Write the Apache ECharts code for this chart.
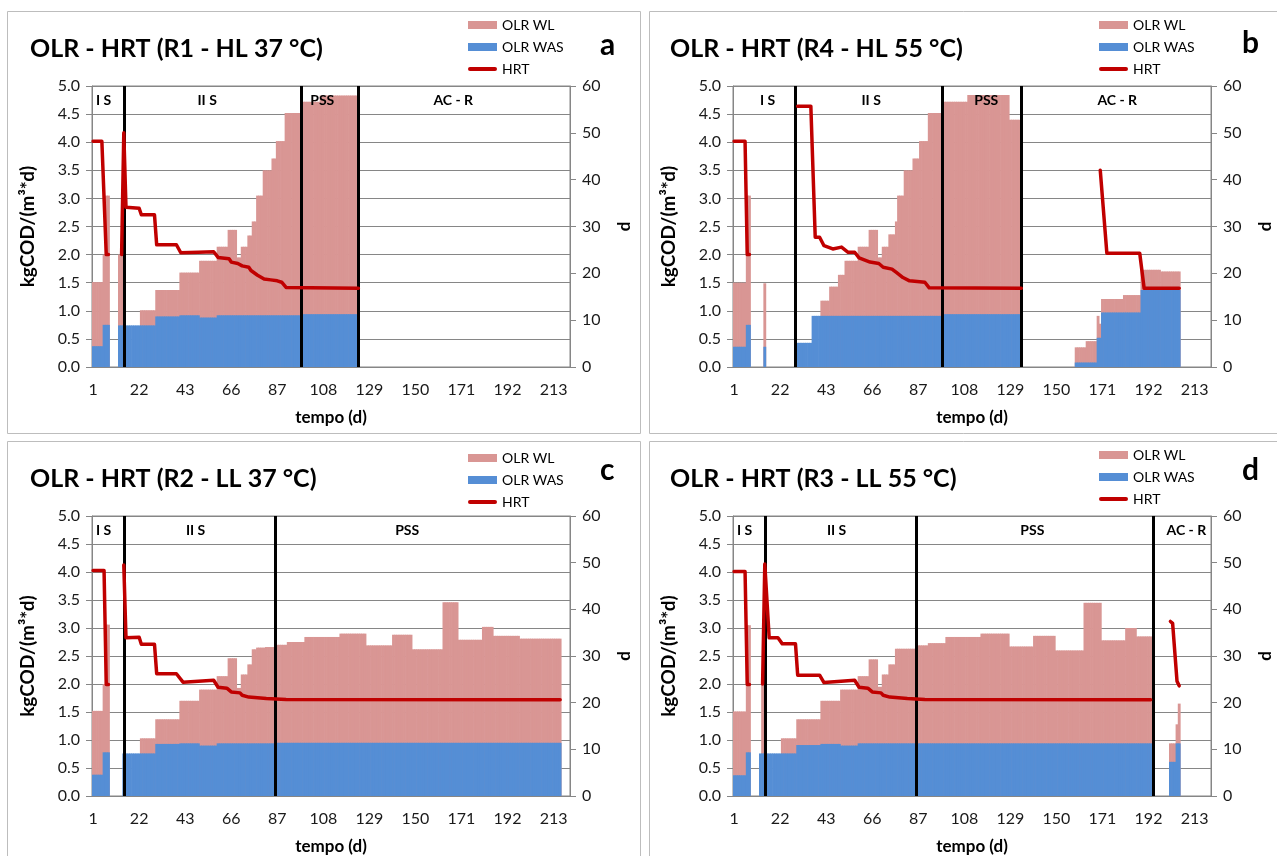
<!DOCTYPE html>
<html>
<head>
<meta charset="utf-8">
<script src="https://cdn.jsdelivr.net/npm/echarts@6/dist/echarts.min.js"></script>
<style>
html,body{margin:0;padding:0;background:#fff;}
#chart{width:1277px;height:856px;}
</style>
</head>
<body>
<div id="chart"></div>
<script>
// ---------------- DATA ----------------
// x axis: 218 daily categories (index), tick labels every 21 categories
const N_CAT = 218;
const tickLabels = ['1','22','43','66','87','108','129','150','171','192','213'];
const seriesNames = ['OLR WL', 'OLR WAS', 'HRT'];

// Run-length segments [firstCategory, lastCategory, value] (kgCOD/(m3*d))
// OLR WL = top of the pink column, OLR WAS = blue column
const a_wl = [[0,4,1.51],[5,5,2.0],[6,7,3.05],[12,13,2.0],[22,28,1.01],[29,39,1.37],[40,48,1.68],[49,56,1.89],[57,61,2.14],[62,65,2.44],[66,67,1.95],[68,70,2.14],[71,72,2.34],[73,74,2.59],[75,77,3.05],[78,81,3.5],[82,83,3.71],[84,87,4.02],[88,95,4.52],[96,103,4.72],[104,121,4.83]];
const a_was = [[0,4,0.37],[5,7,0.75],[12,28,0.74],[29,39,0.9],[40,48,0.92],[49,56,0.88],[57,95,0.92],[96,121,0.94]];
// HRT (d): line pieces, points [category, value]
const a_hrt = [
  [[0,48.2],[4,48.2],[6,24],[7,24]],
  [[13,24],[14,50],[15,34.1],[21,33.9],[22,32.5],[28,32.5],[29,26.1],[38,26.1],[40,24.4],[48,24.5],[55,24.6],[57,23.4],[62,23.1],[63,22.4],[66,22.1],[68,21.6],[71,21.3],[72,20.6],[75,19.6],[78,18.8],[81,18.6],[84,18.4],[86,18.1],[88,17.0],[121,16.8]]
];
const a_phases = [['I S',0,14],['II S',14,95],['PSS',95,121],['AC - R',121,217]];

const b_wl = [[0,5,1.5],[6,7,3.05],[14,14,1.49],[40,43,1.18],[44,47,1.43],[48,50,1.64],[51,56,1.89],[57,61,2.14],[62,65,2.44],[66,67,1.95],[68,70,2.14],[71,73,2.36],[74,74,2.59],[75,77,3.05],[78,81,3.5],[82,84,3.71],[85,88,4.02],[89,95,4.52],[96,106,4.72],[107,125,4.84],[126,131,4.4],[156,160,0.35],[161,165,0.46],[166,166,0.91],[167,167,0.77],[168,177,1.21],[178,185,1.28],[186,194,1.73],[195,203,1.7]];
const b_was = [[0,5,0.36],[6,7,0.75],[14,14,0.36],[29,35,0.43],[36,95,0.91],[96,131,0.94],[156,165,0.08],[166,167,0.52],[168,185,0.97],[186,203,1.37]];
const b_hrt = [
  [[0,48.2],[5,48.2],[6,24],[7,24]],
  [[29,55.7],[35,55.7],[37,27.7],[39,27.7],[41,25.9],[45,25.2],[49,25.6],[52,24.5],[55,24.5],[57,23.3],[62,22.4],[66,22.1],[68,21.3],[72,20.9],[74,20.2],[77,19.1],[80,18.4],[87,18.1],[89,16.9],[131,16.8]],
  [[167,42],[170,24.3],[185,24.3],[187,16.8],[203,16.8]]
];
const b_phases = [['I S',0,28],['II S',28,95],['PSS',95,131],['AC - R',131,217]];

const c_wl = [[0,4,1.52],[5,5,2.0],[6,7,3.06],[22,28,1.03],[29,39,1.37],[40,48,1.7],[49,56,1.9],[57,61,2.14],[62,65,2.46],[66,67,1.93],[68,70,2.17],[71,72,2.35],[73,74,2.62],[75,78,2.65],[79,83,2.66],[84,88,2.7],[89,96,2.75],[97,112,2.84],[113,124,2.9],[125,136,2.69],[137,145,2.88],[146,159,2.62],[160,166,3.46],[167,177,2.79],[178,182,3.02],[183,194,2.86],[195,213,2.81]];
const c_was = [[0,4,0.38],[5,7,0.78],[14,28,0.76],[29,39,0.93],[40,48,0.94],[49,56,0.9],[57,83,0.94],[84,213,0.95]];
const c_hrt = [
  [[0,48.3],[5,48.3],[6,23.9],[7,23.9]],
  [[14,49.5],[15,33.9],[21,34],[22,32.5],[28,32.5],[29,26.2],[38,26.2],[41,24.4],[55,24.8],[57,23.3],[61,23.1],[63,22.3],[67,22.1],[68,21.6],[71,21.2],[79,20.9],[88,20.7],[213,20.6]]
];
const c_phases = [['I S',0,14],['II S',14,83],['PSS',83,217]];

const d_wl = [[0,5,1.51],[6,7,3.05],[13,13,2.0],[22,28,1.03],[29,39,1.37],[40,48,1.7],[49,56,1.9],[57,61,2.14],[62,65,2.44],[66,67,1.95],[68,70,2.17],[71,73,2.35],[74,83,2.63],[84,88,2.69],[89,96,2.73],[97,112,2.84],[113,125,2.9],[126,136,2.67],[137,146,2.86],[147,159,2.6],[160,167,3.45],[168,178,2.78],[179,183,3.0],[184,190,2.85],[199,201,0.94],[202,202,1.28],[203,203,1.65]];
const d_was = [[0,5,0.37],[6,7,0.78],[12,28,0.76],[29,39,0.91],[40,48,0.93],[49,56,0.9],[57,190,0.94],[199,201,0.61],[202,203,0.94]];
const d_hrt = [
  [[0,48.1],[5,48.1],[6,23.9],[7,23.9]],
  [[13,24],[14,49.7],[16,33.9],[20,33.9],[22,32.6],[28,32.6],[29,25.9],[39,25.9],[41,24.3],[55,24.8],[57,23.3],[61,23.1],[63,22.3],[67,22.1],[68,21.6],[71,21.2],[79,20.9],[87,20.7],[190,20.6]],
  [[199,37.4],[200,37],[202,24.6],[203,23.6]]
];
const d_phases = [['I S',0,14],['II S',14,83],['PSS',83,191],['AC - R',191,217]];

const titles = ['OLR - HRT (R1 - HL 37 °C)','OLR - HRT (R4 - HL 55 °C)','OLR - HRT (R2 - LL 37 °C)','OLR - HRT (R3 - LL 55 °C)'];
const letters = ['a','b','c','d'];

// ---------------- LAYOUT / STYLE ----------------
const FONT = 'Lato, "Liberation Sans", sans-serif';
const C_WL = '#D99694', C_WAS = '#558ED5', C_HRT = '#C00000', C_GRID = '#868686';
const layout = [
  {gx:92,  gy:86,  frame:[7,11,633,422],   tx:30,  ty:36,  lx:600,  ly:30,  lgx:463,  lgy:13},
  {gx:733, gy:86,  frame:[649,11,640,422], tx:670, ty:36,  lx:1242, ly:28,  lgx:1094, lgy:13},
  {gx:92,  gy:516, frame:[7,441,633,430],  tx:30,  ty:466, lx:600,  ly:455, lgx:463,  lgy:446},
  {gx:733, gy:516, frame:[649,441,640,430],tx:670, ty:466, lx:1242, ly:455, lgx:1094, lgy:443}
];
const panelData = [
  {wl:a_wl, was:a_was, hrt:a_hrt, phases:a_phases},
  {wl:b_wl, was:b_was, hrt:b_hrt, phases:b_phases},
  {wl:c_wl, was:c_was, hrt:c_hrt, phases:c_phases},
  {wl:d_wl, was:d_was, hrt:d_hrt, phases:d_phases}
];

function expand(segs){
  const arr = new Array(N_CAT).fill(null);
  segs.forEach(([s,e,v]) => { for (let i = s; i <= e; i++) arr[i] = v; });
  return arr;
}
const categories = Array.from({length:N_CAT}, (_, i) => String(i));

const option = {
  animation:false,
  backgroundColor:'#fff',
  textStyle:{fontFamily:FONT},
  title:[], legend:[], grid:[], xAxis:[], yAxis:[], series:[], graphic:[]
};

layout.forEach((L, p) => {
  const D = panelData[p];
  option.graphic.push({type:'rect', silent:true, z:-10,
    shape:{x:L.frame[0]+0.5, y:L.frame[1]+0.5, width:L.frame[2], height:L.frame[3]},
    style:{fill:'none', stroke:'#BDBDBD', lineWidth:1}});
  option.title.push({text:titles[p], left:L.tx, top:L.ty, padding:0,
    textStyle:{fontFamily:FONT, fontSize:25, fontWeight:'bold', color:'#000'}});
  option.title.push({text:letters[p], left:L.lx, top:L.ly, padding:0,
    textStyle:{fontFamily:FONT, fontSize:30, fontWeight:'bold', color:'#000'}});
  option.legend.push({orient:'vertical', left:L.lgx, top:L.lgy, itemWidth:29, itemHeight:8, itemGap:8,
    selectedMode:false, textStyle:{fontFamily:FONT, fontSize:14, color:'#000'},
    data:[{name:seriesNames[0], icon:'rect'},{name:seriesNames[1], icon:'rect'},
          {name:seriesNames[2], icon:'path://M2,0L28,0A2,2 0 0 1 28,4L2,4A2,2 0 0 1 2,0Z'}]});
  option.grid.push({left:L.gx, top:L.gy, width:478, height:281, show:true,
    borderColor:C_GRID, borderWidth:1, backgroundColor:'rgba(0,0,0,0)'});
  option.xAxis.push({type:'category', gridIndex:p, data:categories, boundaryGap:true,
    axisLine:{lineStyle:{color:C_GRID, width:1}}, axisTick:{show:false},
    axisLabel:{interval:20, margin:15, fontFamily:FONT, fontSize:16, color:'#1a1a1a',
      formatter:(v) => { const k = Number(v) / 21; return Number.isInteger(k) && tickLabels[k] ? tickLabels[k] : ''; }},
    name:'tempo (d)', nameLocation:'middle', nameGap:42,
    nameTextStyle:{fontFamily:FONT, fontSize:17, fontWeight:'bold', color:'#000'}});
  option.yAxis.push({type:'value', gridIndex:p, min:0, max:5, interval:0.5,
    axisLine:{show:true, lineStyle:{color:C_GRID}}, axisTick:{show:true, length:6, lineStyle:{color:C_GRID}},
    splitLine:{show:true, lineStyle:{color:C_GRID, width:1}},
    axisLabel:{margin:12, fontFamily:FONT, fontSize:16, color:'#1a1a1a', formatter:(v)=>v.toFixed(1)},
    name:'kgCOD/(m³*d)', nameLocation:'middle', nameGap:55, nameRotate:90,
    nameTextStyle:{fontFamily:FONT, fontSize:19, fontWeight:'bold', color:'#000'}});
  option.yAxis.push({type:'value', gridIndex:p, position:'right', min:0, max:60, interval:10,
    axisLine:{show:true, lineStyle:{color:C_GRID}}, axisTick:{show:true, length:6, lineStyle:{color:C_GRID}},
    splitLine:{show:false},
    axisLabel:{margin:12, fontFamily:FONT, fontSize:16, color:'#1a1a1a'},
    name:'d', nameLocation:'middle', nameGap:46, nameRotate:90,
    nameTextStyle:{fontFamily:FONT, fontSize:17, fontWeight:'bold', color:'#000'}});

  const bounds = D.phases.slice(1).map(ph => ph[1]);
  option.series.push({type:'bar', name:seriesNames[0], xAxisIndex:p, yAxisIndex:2*p,
    data:expand(D.wl), barWidth:'130%', barGap:'-100%',
    itemStyle:{color:C_WL}, z:2});
  option.series.push({type:'bar', name:seriesNames[1], xAxisIndex:p, yAxisIndex:2*p,
    data:expand(D.was), barWidth:'130%', barGap:'-100%',
    itemStyle:{color:C_WAS}, z:3,
    markLine:{silent:true, symbol:['none','none'], animation:false, z:8,
      label:{show:false}, lineStyle:{color:'#000', width:3, type:'solid'},
      data:bounds.map(b => ({xAxis:b}))},
    markArea:{silent:true, z:9, itemStyle:{color:'rgba(0,0,0,0)'},
      label:{show:true, position:'inside', fontFamily:FONT, fontSize:14, fontWeight:'bold', color:'#000'},
      data:D.phases.map(ph => [{name:ph[0], xAxis:ph[1], yAxis:5}, {xAxis:ph[2], yAxis:4.5}])}});
  D.hrt.forEach(seg => {
    option.series.push({type:'line', name:seriesNames[2], xAxisIndex:p, yAxisIndex:2*p+1,
      data:seg, symbol:'none', showSymbol:false, z:10,
      lineStyle:{color:C_HRT, width:3.5, join:'round', cap:'round'}, itemStyle:{color:C_HRT}});
  });
});

const chart = echarts.init(document.getElementById('chart'), null, {renderer:'canvas'});
chart.setOption(option);
</script>
</body>
</html>
